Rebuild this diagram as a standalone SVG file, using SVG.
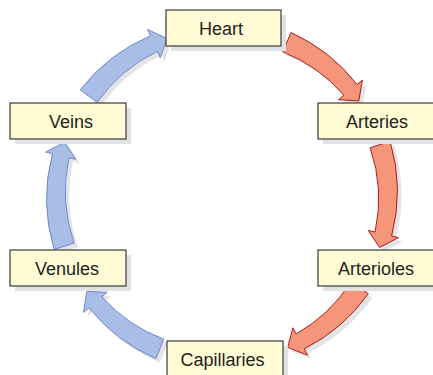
<svg xmlns="http://www.w3.org/2000/svg" xmlns:xlink="http://www.w3.org/1999/xlink" width="433" height="375" viewBox="0 0 433 375">
<style>
.box{fill:#FFFBD4;stroke:#3a3a3a;stroke-width:1.2}
.shadow{fill:#E2E2E4}
.red{fill:#F5967B;stroke:#A81C1C;stroke-width:1}
.blue{fill:#A9BEE6;stroke:#7385CF;stroke-width:1}
.ashadow{fill:#E4E4E6}
.lbl{font-family:"Liberation Sans",Arial,sans-serif;font-size:18px;fill:#222222;text-anchor:middle}
</style>
<defs>
<path id="a1" d="M290.96,32.53 A175.5,175.5 0 0 1 357.04,84.48 L362.45,80.04 L358.81,100.98 L338.46,99.68 L343.88,95.24 A156.5,156.5 0 0 0 282.76,51.86 Z"/>
<path id="a2" d="M390.14,141.34 A175.5,175.5 0 0 1 391.61,236.03 L398.41,237.68 L379.51,247.40 L368.28,230.39 L375.08,232.03 A156.5,156.5 0 0 0 370.14,147.72 Z"/>
<path id="a3" d="M368.33,293.70 A175.5,175.5 0 0 1 304.19,348.93 L307.49,355.11 L287.66,347.46 L292.89,327.76 L296.18,333.94 A156.5,156.5 0 0 0 350.92,281.95 Z"/>
<path id="a4" d="M155.88,358.65 A175.5,175.5 0 0 1 88.91,307.86 L83.58,312.39 L86.86,291.40 L107.22,292.34 L101.88,296.87 A156.5,156.5 0 0 0 163.75,339.18 Z"/>
<path id="a5" d="M54.14,249.54 A175.5,175.5 0 0 1 52.46,153.67 L45.66,152.01 L64.58,142.33 L75.78,159.36 L68.98,157.70 A156.5,156.5 0 0 0 74.11,243.05 Z"/>
<path id="a6" d="M80.30,89.77 A175.5,175.5 0 0 1 150.47,35.84 L147.60,29.45 L166.86,38.43 L160.31,57.73 L157.44,51.34 A156.5,156.5 0 0 0 97.16,102.29 Z"/>
</defs>
<g id="connectors">
<use xlink:href="#a1" href="#a1" class="ashadow" transform="translate(4,4)"/>
<use xlink:href="#a2" href="#a2" class="ashadow" transform="translate(4,4)"/>
<use xlink:href="#a3" href="#a3" class="ashadow" transform="translate(4,4)"/>
<use xlink:href="#a4" href="#a4" class="ashadow" transform="translate(4,4)"/>
<use xlink:href="#a5" href="#a5" class="ashadow" transform="translate(4,4)"/>
<use xlink:href="#a6" href="#a6" class="ashadow" transform="translate(4,4)"/>
<use xlink:href="#a1" href="#a1" class="red"/>
<use xlink:href="#a2" href="#a2" class="red"/>
<use xlink:href="#a3" href="#a3" class="red"/>
<use xlink:href="#a4" href="#a4" class="blue"/>
<use xlink:href="#a5" href="#a5" class="blue"/>
<use xlink:href="#a6" href="#a6" class="blue"/>
</g>
<g id="heart">
<rect class="shadow" x="171" y="15" width="115" height="36"/>
<rect class="box" x="166" y="10" width="115" height="36"/>
<text class="lbl" x="221" y="34.5">Heart</text>
</g>
<g id="arteries">
<rect class="shadow" x="323" y="108" width="116" height="36"/>
<rect class="box" x="318" y="103" width="116" height="36"/>
<text class="lbl" x="377" y="127.5">Arteries</text>
</g>
<g id="arterioles">
<rect class="shadow" x="323" y="255" width="116" height="36"/>
<rect class="box" x="318" y="250" width="116" height="36"/>
<text class="lbl" x="376" y="274.5">Arterioles</text>
</g>
<g id="capillaries">
<rect class="shadow" x="172" y="346" width="116" height="36"/>
<rect class="box" x="167" y="341" width="116" height="36"/>
<text class="lbl" x="222.5" y="365.5">Capillaries</text>
</g>
<g id="venules">
<rect class="shadow" x="15" y="255" width="116" height="36"/>
<rect class="box" x="10" y="250" width="116" height="36"/>
<text class="lbl" x="67" y="274.5">Venules</text>
</g>
<g id="veins">
<rect class="shadow" x="15" y="108" width="116" height="36"/>
<rect class="box" x="10" y="103" width="116" height="36"/>
<text class="lbl" x="71" y="127.5">Veins</text>
</g>
</svg>
